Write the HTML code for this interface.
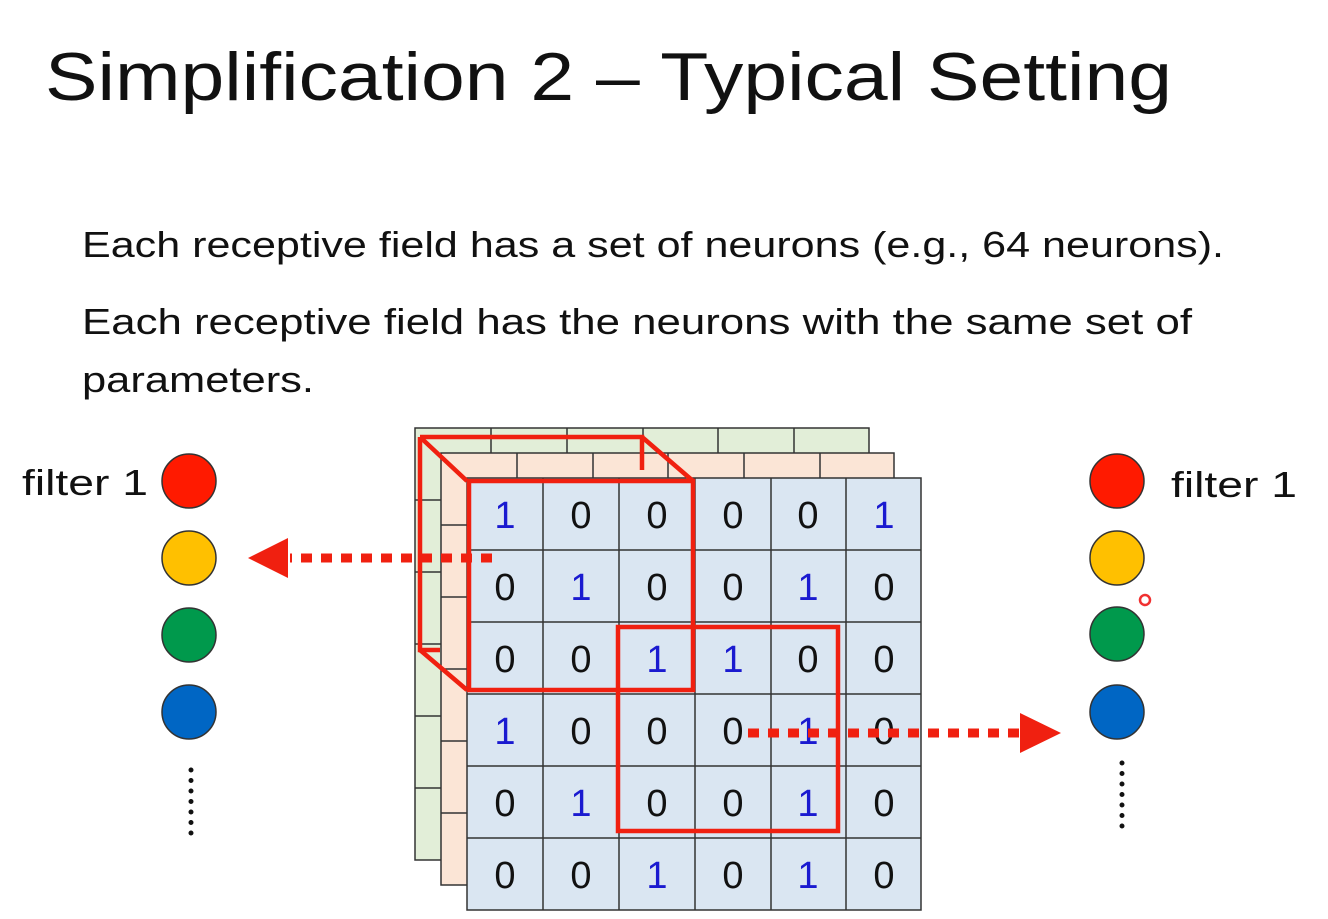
<!DOCTYPE html>
<html><head><meta charset="utf-8"><style>
html,body{margin:0;padding:0;background:#fff;}
svg{display:block;}
text{font-family:"Liberation Sans",sans-serif;}
</style></head><body>
<svg width="1328" height="919" viewBox="0 0 1328 919" xmlns="http://www.w3.org/2000/svg">
<rect width="1328" height="919" fill="#fff"/>
<text x="45" y="100" font-size="68" fill="#111" textLength="1127" lengthAdjust="spacingAndGlyphs">Simplification 2 – Typical Setting</text>
<text x="82" y="257" font-size="36" fill="#111" textLength="1142" lengthAdjust="spacingAndGlyphs">Each receptive field has a set of neurons (e.g., 64 neurons).</text>
<text x="82" y="334" font-size="36" fill="#111" textLength="1110" lengthAdjust="spacingAndGlyphs">Each receptive field has the neurons with the same set of</text>
<text x="82" y="392" font-size="36" fill="#111" textLength="232" lengthAdjust="spacingAndGlyphs">parameters.</text>

<!-- green layer -->
<g stroke="#333" stroke-width="1.5">
<rect x="415" y="428" width="454" height="432" fill="#e2eed8"/>
<path d="M491 428V860M567 428V860M643 428V860M718 428V860M794 428V860M415 500H869M415 572H869M415 644H869M415 716H869M415 788H869" fill="none"/>
<rect x="441" y="453" width="453" height="432" fill="#fbe5d6"/>
<path d="M517 453V885M593 453V885M668 453V885M744 453V885M820 453V885M441 525H894M441 597H894M441 669H894M441 741H894M441 813H894" fill="none"/>
<rect x="467" y="478" width="454" height="432" fill="#dae6f2"/>
<path d="M543 478V910M619 478V910M695 478V910M771 478V910M846 478V910M467 550H921M467 622H921M467 694H921M467 766H921M467 838H921" fill="none"/>
</g>

<g font-size="38" text-anchor="middle" fill="#111">
<text x="505" y="528" fill="#1a1ad0">1</text><text x="581" y="528">0</text><text x="657" y="528">0</text><text x="733" y="528">0</text><text x="808" y="528">0</text><text x="884" y="528" fill="#1a1ad0">1</text>
<text x="505" y="600">0</text><text x="581" y="600" fill="#1a1ad0">1</text><text x="657" y="600">0</text><text x="733" y="600">0</text><text x="808" y="600" fill="#1a1ad0">1</text><text x="884" y="600">0</text>
<text x="505" y="672">0</text><text x="581" y="672">0</text><text x="657" y="672" fill="#1a1ad0">1</text><text x="733" y="672" fill="#1a1ad0">1</text><text x="808" y="672">0</text><text x="884" y="672">0</text>
<text x="505" y="744" fill="#1a1ad0">1</text><text x="581" y="744">0</text><text x="657" y="744">0</text><text x="733" y="744">0</text><text x="808" y="744" fill="#1a1ad0">1</text><text x="884" y="744">0</text>
<text x="505" y="816">0</text><text x="581" y="816" fill="#1a1ad0">1</text><text x="657" y="816">0</text><text x="733" y="816">0</text><text x="808" y="816" fill="#1a1ad0">1</text><text x="884" y="816">0</text>
<text x="505" y="888">0</text><text x="581" y="888">0</text><text x="657" y="888" fill="#1a1ad0">1</text><text x="733" y="888">0</text><text x="808" y="888" fill="#1a1ad0">1</text><text x="884" y="888">0</text>
</g>

<!-- red boxes -->
<g stroke="#f02010" stroke-width="4.5" fill="none" stroke-linejoin="miter">
<path d="M420 437H642V470M420 437V650H440"/>
<path d="M420 437L467 481M642 437L693 481M420 650L467 690"/>
<rect x="469" y="481" width="224" height="209"/>
<rect x="618" y="627" width="220" height="204"/>
</g>

<!-- arrows -->
<g stroke="#f02010" stroke-width="9" stroke-dasharray="11 9" fill="none">
<line x1="492" y1="558" x2="290" y2="558"/>
<line x1="748" y1="733" x2="1022" y2="733"/>
</g>
<polygon points="248,558 288,538 288,578" fill="#f02010"/>
<polygon points="1061,733 1020,713 1020,753" fill="#f02010"/>

<!-- circles -->
<g stroke="#333" stroke-width="1.5">
<circle cx="189" cy="481" r="27" fill="#ff1a00"/>
<circle cx="189" cy="558" r="27" fill="#ffc000"/>
<circle cx="189" cy="635" r="27" fill="#00994c"/>
<circle cx="189" cy="712" r="27" fill="#0066c4"/>
<circle cx="1117" cy="481" r="27" fill="#ff1a00"/>
<circle cx="1117" cy="558" r="27" fill="#ffc000"/>
<circle cx="1117" cy="634" r="27" fill="#00994c"/>
<circle cx="1117" cy="712" r="27" fill="#0066c4"/>
</g>
<circle cx="1145" cy="600" r="5" fill="none" stroke="#f03030" stroke-width="2.5"/>
<g stroke="#111" stroke-width="5" stroke-linecap="round" stroke-dasharray="0 10.5">
<line x1="191" y1="770" x2="191" y2="834"/>
<line x1="1122" y1="763" x2="1122" y2="827"/>
</g>
<text x="22" y="495" font-size="36" fill="#111" textLength="126" lengthAdjust="spacingAndGlyphs">filter 1</text>
<text x="1171" y="497" font-size="36" fill="#111" textLength="126" lengthAdjust="spacingAndGlyphs">filter 1</text>
</svg>
</body></html>
